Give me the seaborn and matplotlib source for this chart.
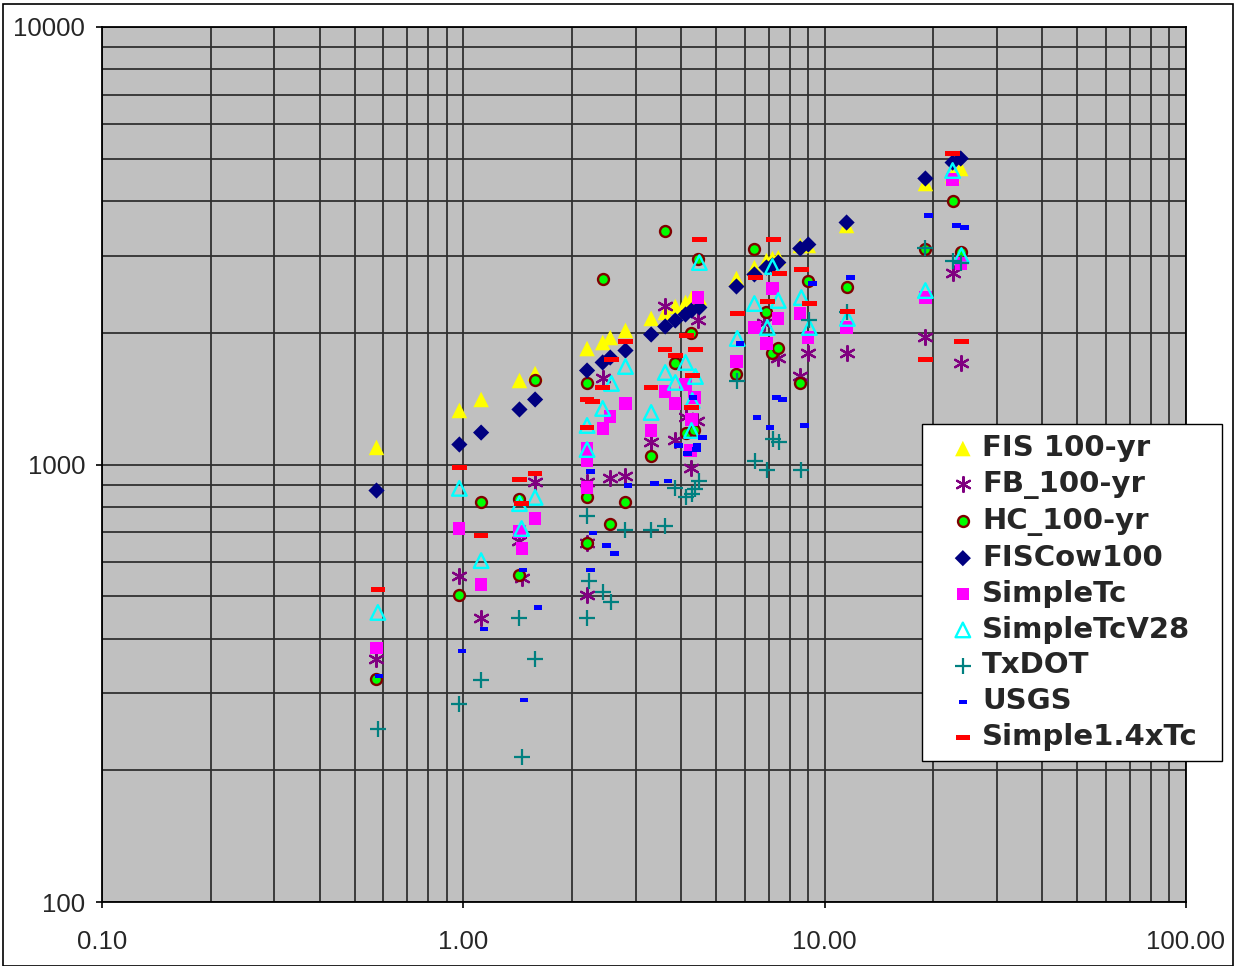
import numpy as np
import pandas as pd
import matplotlib
matplotlib.use("Agg")
import matplotlib.pyplot as plt
import seaborn as sns
from matplotlib.ticker import FuncFormatter, LogLocator, NullFormatter
from matplotlib.patches import Rectangle

# ---------------- data (drainage area vs. peak flow) ----------------
fis_x = [0.575, 0.975, 1.12, 1.43, 1.58, 2.20, 2.43, 2.55, 2.81, 3.31, 3.62, 3.86, 4.12,
         4.28, 4.50, 5.70, 6.39, 6.90, 7.17, 7.44, 8.56, 9.01, 11.5, 19.0, 22.6, 23.8]
fis_y = [1094, 1329, 1408, 1556, 1614, 1841, 1900, 1951, 2025, 2157, 2226, 2297, 2346,
         2396, 2408, 2662, 2820, 2926, 2957, 2972, 3167, 3167, 3518, 4388, 4577, 4749]

fb_x = [0.575, 0.975, 1.12, 1.43, 1.45, 1.58, 2.20, 2.20, 2.20, 2.43, 2.55, 2.81, 3.31,
        3.62, 3.86, 4.12, 4.42, 4.28, 4.47, 6.81, 7.44, 9.01, 8.56, 11.5, 19.0, 22.6, 23.8]
fb_y = [360, 555, 445, 670, 549, 910, 910, 660, 504, 1573, 929, 939, 1123,
        2297, 1135, 1287, 1260, 984, 2134, 2111, 1747, 1794, 1597, 1794, 1961, 2733, 1702]

hc_x = [0.575, 0.975, 1.12, 1.43, 1.43, 1.58, 2.20, 2.20, 2.20, 2.43, 2.55, 2.81, 3.31,
        3.62, 3.86, 4.12, 4.36, 4.28, 4.47, 5.70, 6.39, 6.90, 7.17, 7.44, 8.56, 9.01,
        11.5, 19.0, 22.6, 23.8]
hc_y = [324, 502, 823, 836, 558, 1556, 1532, 841, 660, 2648, 733, 823, 1048,
        3409, 1702, 1183, 1202, 2003, 2942, 1614, 3101, 2237, 1794, 1851, 1532, 2620,
        2539, 3101, 3992, 3068]

cow_x = fis_x
cow_y = [872, 1111, 1183, 1336, 1408, 1640, 1711, 1756, 1822, 1982, 2068, 2134, 2202,
         2249, 2285, 2552, 2719, 2820, 2850, 2895, 3117, 3183, 3574, 4505, 4900, 5005]

stc_x = [0.575, 0.975, 1.12, 1.43, 1.45, 1.58, 2.20, 2.20, 2.20, 2.43, 2.55, 2.81, 3.31,
         3.62, 3.86, 4.12, 4.36, 4.28, 4.25, 4.47, 5.70, 6.39, 6.90, 7.17, 7.44, 8.56,
         9.01, 11.5, 19.0, 22.6, 23.8]
stc_y = [380, 714, 532, 703, 643, 753, 1088, 1021, 886, 1209, 1287, 1379, 1196,
         1469, 1379, 1523, 1423, 1267, 1076, 2408, 1720, 2057, 1890, 2525, 2157, 2214,
         1951, 2057, 2408, 4481, 2880]

v28_x = [0.58, 0.975, 1.12, 1.43, 1.45, 1.58, 2.20, 2.20, 2.43, 2.57, 2.81, 3.31, 3.62,
         3.86, 4.12, 4.39, 4.30, 4.28, 4.50, 5.73, 6.39, 6.94, 7.17, 7.44, 8.62, 9.07,
         11.56, 19.0, 22.6, 23.9]
v28_y = [459, 882, 603, 814, 714, 841, 1228, 1082, 1343, 1532, 1675, 1315, 1623,
         1540, 1711, 1589, 1400, 1196, 2895, 1941, 2333, 2057, 2835, 2371, 2408, 2057,
         2157, 2498, 4699, 3004]

txdot_x = [0.58, 0.975, 1.12, 1.43, 1.45, 1.58, 2.20, 2.23, 2.43, 2.57, 2.20, 2.81, 3.31,
           3.62, 3.86, 4.12, 4.30, 4.39, 4.50, 5.73, 6.43, 6.94, 7.21, 7.49, 8.62, 9.07,
           11.56, 19.0, 22.6, 23.9]
txdot_y = [249, 284, 321, 445, 215, 360, 761, 543, 510, 484, 445, 707, 707,
           722, 882, 845, 858, 877, 919, 1548, 1021, 969, 1141, 1123, 969, 2134,
           2226, 3117, 2926, 2895]

usgs_x = [0.585, 0.99, 1.14, 1.46, 1.475, 1.61, 2.25, 2.28, 2.25, 2.49, 2.62, 2.86, 3.38,
          3.69, 4.17, 3.94, 4.44, 4.33, 4.59, 4.42, 5.84, 6.51, 7.35, 7.64, 7.07, 8.79,
          9.25, 11.78, 19.36, 23.15, 24.36]
usgs_y = [329, 374, 420, 575, 290, 471, 964, 696, 575, 653, 626, 895, 905,
          915, 1060, 1105, 1105, 1423, 1153, 1082, 1890, 1281, 1423, 1408, 1215, 1228,
          2593, 2676, 3708, 3518, 3481]

s14_x = [0.58, 0.975, 1.12, 1.43, 1.45, 1.58, 2.20, 2.28, 2.43, 2.57, 2.81, 2.20, 3.31,
         3.62, 3.86, 4.39, 4.14, 4.30, 4.28, 4.50, 5.73, 6.43, 6.94, 7.21, 7.49, 8.62,
         9.07, 11.56, 19.0, 22.6, 23.9]
s14_y = [518, 984, 688, 924, 814, 954, 1408, 1393, 1500, 1738, 1910, 1215, 1500,
         1832, 1775, 1832, 1972, 1597, 1350, 3268, 2214, 2676, 2358, 3268, 2733, 2791,
         2333, 2237, 1738, 5139, 1910]

labels = ["FIS 100-yr", "FB_100-yr", "HC_100-yr", "FISCow100", "SimpleTc",
          "SimpleTcV28", "TxDOT", "USGS", "Simple1.4xTc"]
xs = [fis_x, fb_x, hc_x, cow_x, stc_x, v28_x, txdot_x, usgs_x, s14_x]
ys = [fis_y, fb_y, hc_y, cow_y, stc_y, v28_y, txdot_y, usgs_y, s14_y]

frames = [pd.DataFrame({"area": x, "flow": y, "method": lab})
          for x, y, lab in zip(xs, ys, labels)]
df = pd.concat(frames, ignore_index=True)

# ---------------- styles ----------------
short_dash = [(-1, -0.5), (1, -0.5), (1, 0.5), (-1, 0.5), (-1, -0.5)]
long_dash = [(-1, -0.29), (1, -0.29), (1, 0.29), (-1, 0.29), (-1, -0.29)]
asterisk = (6, 2, 0)

styles = {
    "FIS 100-yr":   dict(marker="^", s=125, color="#FFFF00", edgecolor="none", linewidth=0),
    "FB_100-yr":    dict(marker=asterisk, s=115, color="#800080", edgecolor="#800080", linewidth=1.6),
    "HC_100-yr":    dict(marker="o", s=62, color="#00FF00", edgecolor="#800000", linewidth=1.7),
    "FISCow100":    dict(marker="D", s=68, color="#000080", edgecolor="none", linewidth=0),
    "SimpleTc":     dict(marker="s", s=78, color="#FF00FF", edgecolor="none", linewidth=0),
    "SimpleTcV28":  dict(marker="^", s=110, color="#00FFFF", facecolor="none", edgecolor="#00FFFF", linewidth=1.7),
    "TxDOT":        dict(marker="+", s=125, color="#008080", edgecolor="#008080", linewidth=1.6),
    "USGS":         dict(marker=short_dash, s=36, color="#0000FF", edgecolor="none", linewidth=0),
    "Simple1.4xTc": dict(marker=long_dash, s=110, color="#FF0000", edgecolor="none", linewidth=0),
}

# ---------------- figure ----------------
sns.set_theme(style="white")
plt.rcParams["font.family"] = ["Liberation Sans", "DejaVu Sans"]

W, H = 1235, 966
fig = plt.figure(figsize=(W / 100, H / 100), dpi=100)
ax = fig.add_axes([102 / W, 1 - 902 / H, (1186 - 102) / W, (902 - 27) / H])
ax.set_facecolor("#C0C0C0")
ax.set_xscale("log")
ax.set_yscale("log")

for i, lab in enumerate(labels):
    sub = df[df["method"] == lab]
    sns.scatterplot(data=sub, x="area", y="flow", ax=ax, label=lab,
                    zorder=3 + i, **styles[lab])

ax.set_xlim(0.1, 100)
ax.set_ylim(100, 10000)
ax.xaxis.set_major_locator(LogLocator(base=10, numticks=10))
ax.yaxis.set_major_locator(LogLocator(base=10, numticks=10))
ax.xaxis.set_minor_locator(LogLocator(base=10, subs=np.arange(2, 10), numticks=20))
ax.yaxis.set_minor_locator(LogLocator(base=10, subs=np.arange(2, 10), numticks=20))
ax.xaxis.set_major_formatter(FuncFormatter(lambda v, p: f"{v:.2f}"))
ax.yaxis.set_major_formatter(FuncFormatter(lambda v, p: f"{v:.0f}"))
ax.xaxis.set_minor_formatter(NullFormatter())
ax.yaxis.set_minor_formatter(NullFormatter())

ax.grid(True, which="both", color="#303030", linewidth=1.3)
ax.set_axisbelow(True)
ax.tick_params(axis="both", which="major", labelsize=18.5, length=4, width=1.2,
               color="black", direction="out", bottom=True, left=True)
ax.tick_params(axis="x", which="major", pad=16)
ax.tick_params(axis="y", which="major", pad=8)
ax.tick_params(axis="both", which="minor", length=0)
for sp in ax.spines.values():
    sp.set_color("black")
    sp.set_linewidth(1.3)
ax.set_xlabel("")
ax.set_ylabel("")

leg = ax.legend(loc="upper left",
                bbox_to_anchor=(922 / W, 1 - 762 / H, 300 / W, 338 / H),
                bbox_transform=fig.transFigure, borderaxespad=0, mode="expand",
                frameon=True, fancybox=False, edgecolor="black", framealpha=1,
                facecolor="white", handlelength=2.1, handletextpad=-0.38,
                labelspacing=0.27, borderpad=0.35, scatterpoints=1,
                prop={"family": "DejaVu Sans", "weight": "bold", "size": 21})
leg.get_frame().set_linewidth(1.0)
leg.set_zorder(20)

fig.patches.append(Rectangle((3 / W, 0), (1233 - 3) / W, 1 - 4 / H,
                             transform=fig.transFigure, fill=False,
                             edgecolor="black", linewidth=1.2))

fig.savefig("out.png", dpi=100, facecolor="white")
